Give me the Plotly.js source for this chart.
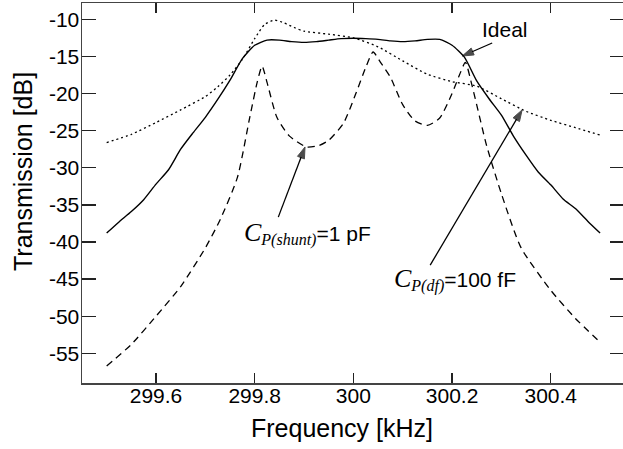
<!DOCTYPE html>
<html>
<head>
<meta charset="utf-8">
<script src="https://cdn.plot.ly/plotly-3.0.1.min.js"></script>
<style>
html,body{margin:0;padding:0;overflow:hidden;background:#fff;}
#chart{width:625px;height:449px;}
</style>
</head>
<body>
<div id="chart"></div>
<script>
// Frequency (kHz) and transmission (dB)
const idealFreq = [299.50,299.525,299.55,299.575,299.60,299.625,299.65,299.675,299.70,299.725,299.75,299.775,299.80,299.825,299.85,299.875,299.90,299.925,299.95,299.975,300.00,300.025,300.05,300.075,300.10,300.125,300.15,300.175,300.20,300.225,300.25,300.275,300.30,300.325,300.35,300.375,300.40,300.425,300.45,300.475,300.50];
const idealDb = [-38.8,-37.3,-35.9,-34.3,-32.2,-30.3,-27.5,-25.3,-23.2,-20.8,-18.2,-15.3,-13.5,-12.8,-12.8,-13.0,-13.1,-13.0,-12.8,-12.6,-12.55,-12.6,-12.7,-12.9,-13.0,-12.9,-12.7,-12.7,-13.5,-15.1,-18.3,-20.7,-22.9,-25.8,-28.3,-30.6,-32.3,-34.2,-35.5,-37.2,-38.8];

const dfFreq = [299.50,299.55,299.60,299.65,299.70,299.725,299.75,299.775,299.80,299.82,299.84,299.86,299.88,299.90,299.95,300.00,300.05,300.10,300.15,300.20,300.25,300.30,300.35,300.40,300.45,300.50];
const dfDb = [-26.6,-25.5,-23.9,-22.2,-20.4,-19.1,-17.5,-15.4,-12.6,-10.7,-10.1,-10.5,-11.1,-11.6,-12.0,-12.5,-13.7,-15.6,-17.4,-18.4,-19.0,-20.7,-22.4,-23.6,-24.6,-25.6];

const shuntFreq = [299.50,299.55,299.60,299.65,299.70,299.73,299.765,299.79,299.805,299.815,299.825,299.845,299.87,299.905,299.93,299.95,299.98,300.005,300.025,300.04,300.055,300.075,300.10,300.125,300.15,300.175,300.20,300.215,300.227,300.24,300.27,300.30,300.34,300.40,300.45,300.50];
const shuntDb = [-56.7,-53.8,-50.0,-46.0,-40.8,-37.0,-31.3,-23.2,-18.5,-16.3,-18.5,-23.2,-25.7,-27.2,-27.0,-26.3,-24.0,-20.0,-16.5,-14.4,-15.8,-17.8,-21.5,-23.7,-24.3,-23.3,-20.0,-17.5,-15.8,-18.8,-27.0,-33.5,-40.8,-46.5,-50.3,-53.5];

// Pointer arrows: [tail, head] in data units
const idealArrowX = [300.2813, 300.2206];
const idealArrowY = [-13.19, -14.95];
const shuntArrowX = [299.8478, 299.902];
const shuntArrowY = [-36.65, -27.2];
const dfArrowX = [300.1557, 300.342];
const dfArrowY = [-43.12, -22.2];

const xTicks = [299.6,299.8,300,300.2,300.4];
const xTickText = ['299.6','299.8','300','300.2','300.4'];
const yTicks = [-55,-50,-45,-40,-35,-30,-25,-20,-15,-10];
const yTickText = ['-55','-50','-45','-40','-35','-30','-25','-20','-15','-10'];

const xTitle = 'Frequency [kHz]';
const yTitle = 'Transmission [dB]';
const idealLabel = 'Ideal';
const serif = "font-family:'Liberation Serif',serif;font-style:italic;";
const shuntLabel = '<span style="' + serif + 'font-size:26px">C</span><sub><span style="' + serif + 'font-size:16px">P(shunt)</span></sub>=1 pF';
const dfLabel = '<span style="' + serif + 'font-size:26px">C</span><sub><span style="' + serif + 'font-size:16px">P(df)</span></sub>=100 fF';

function arrowTrace(xs, ys) {
  return {x: xs, y: ys, mode:'lines+markers', line:{color:'#000', width:1.3},
          marker:{symbol:['circle','arrow'], size:[0,12], color:'#000', angleref:'previous', line:{width:1, color:'#000'}},
          hoverinfo:'skip'};
}

const traces = [
  {x: dfFreq, y: dfDb, mode:'lines', line:{color:'#000', width:1.3, dash:'2px,3px', shape:'spline', smoothing:0.6}, name:'df'},
  {x: shuntFreq, y: shuntDb, mode:'lines', line:{color:'#000', width:1.3, dash:'7px,5px', shape:'spline', smoothing:0.6}, name:'shunt'},
  {x: idealFreq, y: idealDb, mode:'lines', line:{color:'#000', width:1.4, shape:'spline', smoothing:0.6}, name:'ideal'},
  arrowTrace(idealArrowX, idealArrowY),
  arrowTrace(shuntArrowX, shuntArrowY),
  arrowTrace(dfArrowX, dfArrowY)
];

const axisFont = {family:'Liberation Sans, Arial, sans-serif', size:21, color:'#000'};
const titleFont = {family:'Liberation Sans, Arial, sans-serif', size:25, color:'#000'};

const layout = {
  width:625, height:449,
  margin:{l:82, r:1, t:3, b:66},
  paper_bgcolor:'#fff', plot_bgcolor:'#fff',
  showlegend:false,
  font: axisFont,
  xaxis:{range:[299.45,300.5485], tickvals:xTicks, ticktext:xTickText, ticks:'inside', ticklen:10, tickwidth:1.3, tickcolor:'#222',
         showline:true, linecolor:'#444', linewidth:1.5, mirror:'ticks', showgrid:false, zeroline:false, tickfont:axisFont, ticklabelstandoff:-7},
  yaxis:{range:[-59,-7.8], tickvals:yTicks, ticktext:yTickText, ticks:'inside', ticklen:14, tickwidth:1.3, tickcolor:'#222',
         showline:true, linecolor:'#444', linewidth:1.5, mirror:'ticks', showgrid:false, zeroline:false, tickfont:axisFont, ticklabelstandoff:-3},
  annotations:[
    {xref:'paper', yref:'paper', x:(342-82)/542, y:(449-428-66)/380, text:xTitle, showarrow:false, font:titleFont, xanchor:'center', yanchor:'middle'},
    {xref:'paper', yref:'paper', x:(23-82)/542, y:(383-172)/380, text:yTitle, textangle:-90, showarrow:false, font:titleFont, xanchor:'center', yanchor:'middle'},
    {x:300.308, y:-11.31, text:idealLabel, showarrow:false, font:{family:'Liberation Sans, Arial, sans-serif', size:21, color:'#000'}, xanchor:'center', yanchor:'middle'},
    {x:299.775, y:-38.9, text:shuntLabel, showarrow:false, font:{family:'Liberation Sans, Arial, sans-serif', size:21, color:'#000'}, xanchor:'left', yanchor:'middle'},
    {x:300.079, y:-45.1, text:dfLabel, showarrow:false, font:{family:'Liberation Sans, Arial, sans-serif', size:21, color:'#000'}, xanchor:'left', yanchor:'middle'}
  ]
};

Plotly.newPlot('chart', traces, layout, {staticPlot:true, displayModeBar:false});
</script>
</body>
</html>
